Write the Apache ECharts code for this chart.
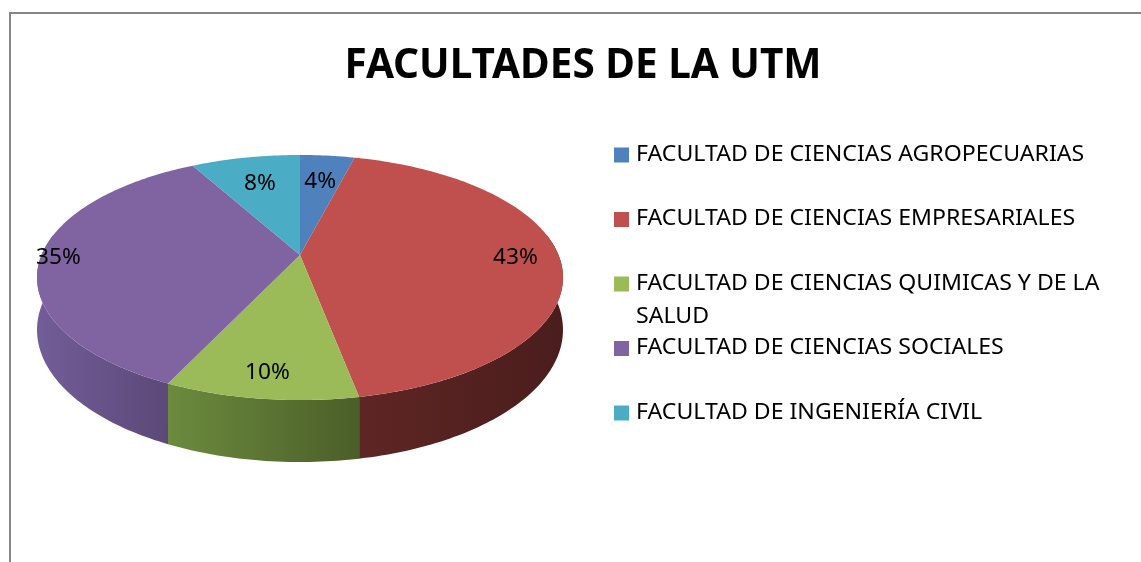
<!DOCTYPE html>
<html>
<head>
<meta charset="utf-8">
<title>FACULTADES DE LA UTM</title>
<script src="https://cdn.jsdelivr.net/npm/echarts@6/dist/echarts.min.js"></script>
<style>
  html, body { margin: 0; padding: 0; background: #fff; }
  #main { width: 1141px; height: 562px; }
</style>
</head>
<body>
<div id="main"></div>
<script>
// datos
var categories = [
  'FACULTAD DE CIENCIAS AGROPECUARIAS',
  'FACULTAD DE CIENCIAS EMPRESARIALES',
  'FACULTAD DE CIENCIAS QUIMICAS Y DE LA SALUD',
  'FACULTAD DE CIENCIAS SOCIALES',
  'FACULTAD DE INGENIERÍA CIVIL'
];
var values = [4, 43, 10, 35, 8];

// estilo (paleta Office)
var topColors = ['#4F81BD', '#C0504D', '#9BBB59', '#8064A2', '#4BACC6'];
var sideColors = [
  ['#3e6897', '#2f507a'],
  ['#5e2624', '#4a1d1c'],
  ['#6c8b3e', '#4b5e29'],
  ['#725d98', '#5c4978'],
  ['#3a8aa0', '#2d6e80']
];
var labelRadius = [0.7, 0.83, 0.85, 0.93, 0.7];

// geometria del pastel 3D (perspectiva simple)
var CX = 300, CY = 255, RX = 258.5, RY = 118.4, PERSP = 0.1837, DEPTH = 50.6;
var FONT = '"Noto Sans", "Open Sans", sans-serif';

var total = values.reduce(function (a, b) { return a + b; }, 0);
var starts = [];
values.reduce(function (acc, v) { starts.push(acc); return acc + v; }, 0);

function deg(v) { return v / total * 360; }
function proj(a, r, z) {
  var t = a * Math.PI / 180;
  var X = r * Math.sin(t), Y = -r * Math.cos(t);
  var f = 1 / (1 - PERSP * Y);
  return [CX + RX * X * f, CY + RY * Y * f + z * DEPTH * f];
}

var myChart = echarts.init(document.getElementById('main'));

// lados (solo la parte frontal)
function renderSide(params, api) {
  var i = params.dataIndex;
  var a0 = Math.max(deg(starts[i]), 80);
  var a1 = Math.min(deg(starts[i] + api.value(0)), 280);
  if (a1 <= a0) return { type: 'group', children: [] };
  var topPts = [], botPts = [];
  for (var a = a0; a < a1; a += 1) {
    topPts.push(proj(a, 1, 0));
    botPts.push(proj(a, 1, 1));
  }
  topPts.push(proj(a1, 1, 0));
  botPts.push(proj(a1, 1, 1));
  var pts = topPts.concat(botPts.reverse());
  var xs = pts.map(function (p) { return p[0]; });
  var x0 = Math.min.apply(null, xs), x1 = Math.max.apply(null, xs);
  return {
    type: 'polygon',
    shape: { points: pts },
    style: {
      fill: new echarts.graphic.LinearGradient(x0, 0, x1, 0, [
        { offset: 0, color: sideColors[i][0] },
        { offset: 1, color: sideColors[i][1] }
      ], true)
    }
  };
}

// cara superior + etiqueta
function renderTop(params, api) {
  var i = params.dataIndex;
  var v = api.value(0);
  var a0 = deg(starts[i]), a1 = deg(starts[i] + v);
  var pts = [[CX, CY]];
  for (var a = a0; a < a1; a += 1) pts.push(proj(a, 1, 0));
  pts.push(proj(a1, 1, 0));
  var lp = proj((a0 + a1) / 2, labelRadius[i], 0);
  return {
    type: 'group',
    children: [
      { type: 'polygon', shape: { points: pts }, style: { fill: topColors[i] } },
      {
        type: 'text', x: lp[0], y: lp[1], z2: 10, scaleX: 1.08,
        style: {
          text: Math.round(v / total * 100) + '%',
          fill: '#000', fontSize: 21, fontFamily: FONT,
          align: 'center', verticalAlign: 'middle'
        }
      }
    ]
  };
}

var seriesData = values.map(function (v, i) { return { name: categories[i], value: v }; });

// leyenda dibujada a mano
var legendEls = [];
categories.forEach(function (name, i) {
  var yc = 155 + i * 64.5;
  legendEls.push({
    type: 'rect', shape: { x: 614, y: yc - 7.5, width: 15, height: 15 },
    style: { fill: topColors[i] }
  });
  legendEls.push({
    type: 'text', x: 636, y: yc - 16.5, scaleX: 1.1,
    style: {
      text: name, fill: '#000', fontSize: 21, fontFamily: FONT,
      width: 430, overflow: 'break', lineHeight: 33, verticalAlign: 'top'
    }
  });
});

option = {
  backgroundColor: '#fff',
  animation: false,
  title: {
    text: 'FACULTADES DE LA UTM',
    left: 578,
    top: 41,
    textAlign: 'center',
    textStyle: { fontFamily: FONT, fontWeight: 'bold', fontSize: 40.5, color: '#000' }
  },
  graphic: [
    {
      type: 'rect', shape: { x: 10, y: 13, width: 1200, height: 600 },
      style: { fill: null, stroke: '#868686', lineWidth: 2 }, silent: true
    }
  ].concat(legendEls),
  series: [
    { type: 'custom', coordinateSystem: 'none', renderItem: renderSide, data: seriesData, silent: true },
    { type: 'custom', coordinateSystem: 'none', renderItem: renderTop, data: seriesData, silent: true }
  ]
};

myChart.setOption(option);
</script>
</body>
</html>
